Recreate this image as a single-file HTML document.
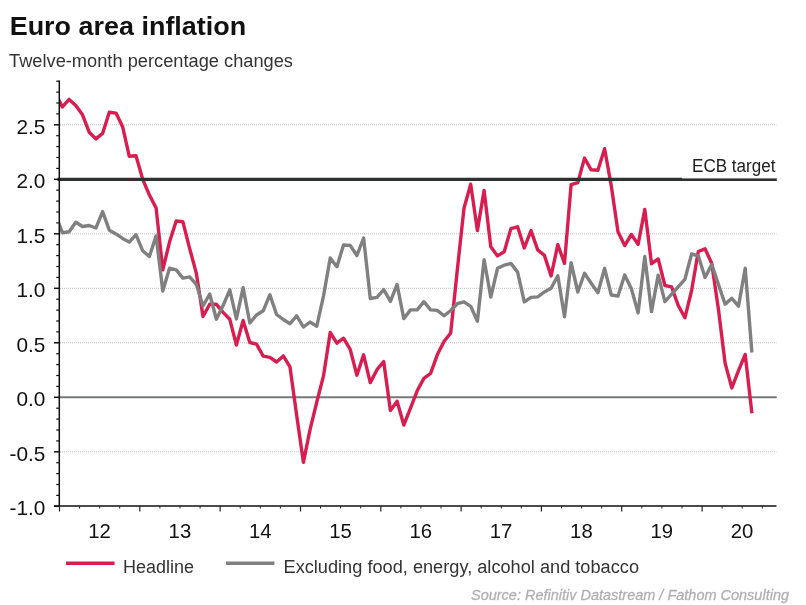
<!DOCTYPE html>
<html><head><meta charset="utf-8"><title>Euro area inflation</title>
<style>
html,body{margin:0;padding:0;background:#fff;}
body{width:806px;height:605px;overflow:hidden;font-family:"Liberation Sans",sans-serif;}
svg{display:block;will-change:transform;opacity:0.999;font-family:"Liberation Sans",sans-serif;}
</style></head><body>
<svg width="806" height="605" viewBox="0 0 806 605">
<rect width="806" height="605" fill="#fff"/>
<defs><clipPath id="plot"><rect x="59.5" y="80" width="717" height="426"/></clipPath></defs>
<text x="9.7" y="34.7" font-size="26.5" font-weight="bold" fill="#111" textLength="236.5" lengthAdjust="spacingAndGlyphs">Euro area inflation</text>
<text x="9" y="66.8" font-size="18" fill="#333" textLength="284" lengthAdjust="spacingAndGlyphs">Twelve-month percentage changes</text>
<line x1="60" x2="776.5" y1="124.8" y2="124.8" stroke="#bcc0c0" stroke-width="1" stroke-dasharray="1 1"/>
<line x1="60" x2="776.5" y1="233.8" y2="233.8" stroke="#bcc0c0" stroke-width="1" stroke-dasharray="1 1"/>
<line x1="60" x2="776.5" y1="288.3" y2="288.3" stroke="#bcc0c0" stroke-width="1" stroke-dasharray="1 1"/>
<line x1="60" x2="776.5" y1="342.8" y2="342.8" stroke="#bcc0c0" stroke-width="1" stroke-dasharray="1 1"/>
<line x1="60" x2="776.5" y1="451.8" y2="451.8" stroke="#bcc0c0" stroke-width="1" stroke-dasharray="1 1"/>
<line x1="59.5" x2="776.5" y1="397.3" y2="397.3" stroke="#858888" stroke-width="2"/>
<line x1="59.5" x2="776.5" y1="397.3" y2="397.3" stroke="#555" stroke-width="1" stroke-dasharray="1 1"/>
<g clip-path="url(#plot)" fill="none" stroke-linejoin="round" stroke-linecap="butt">
<polyline points="55.7,93.7 62.4,106.9 69.1,99.4 75.8,105.4 82.5,114.8 89.2,132.2 95.9,138.9 102.6,133.4 109.3,112.3 116.0,113.1 122.6,126.7 129.3,156.3 136.0,155.8 142.7,179.3 149.4,195.0 156.1,207.9 162.8,269.9 169.5,242.1 176.2,221.0 182.9,221.8 189.6,248.3 196.3,273.1 203.0,316.5 209.7,304.3 216.4,304.3 223.1,312.4 229.8,319.3 236.4,345.0 243.1,320.5 249.8,342.5 256.5,344.2 263.2,356.1 269.9,357.3 276.6,362.0 283.3,355.9 290.0,366.9 296.7,415.6 303.4,462.3 310.1,429.3 316.8,402.0 323.5,375.9 330.2,332.5 336.9,343.2 343.5,338.2 350.2,349.4 356.9,375.2 363.6,354.8 370.3,382.6 377.0,369.7 383.7,361.5 390.4,410.6 397.1,401.2 403.8,425.0 410.5,408.2 417.2,390.8 423.9,378.4 430.6,373.4 437.3,354.8 444.0,341.5 450.7,333.0 457.3,270.0 464.0,208.2 470.7,184.2 477.4,230.6 484.1,190.4 490.8,246.7 497.5,255.9 504.2,251.7 510.9,228.6 517.6,226.8 524.3,247.9 531.0,230.6 537.7,249.9 544.4,255.4 551.1,276.0 557.8,244.7 564.5,263.3 571.1,184.7 577.8,182.7 584.5,158.1 591.2,169.8 597.9,170.3 604.6,148.7 611.3,185.9 618.0,231.7 624.7,245.6 631.4,234.5 638.1,244.4 644.8,209.4 651.5,263.7 658.2,259.0 664.9,285.5 671.6,286.8 678.2,305.4 684.9,317.8 691.6,290.5 698.3,251.5 705.0,248.8 711.7,263.2 718.4,309.1 725.1,363.1 731.8,387.9 738.5,370.6 745.2,354.4 751.9,413.3" stroke="#d81e50" stroke-width="3.4"/>
<polyline points="55.7,215.4 62.4,232.7 69.1,231.7 75.8,222.3 82.5,226.5 89.2,225.5 95.9,228.0 102.6,211.6 109.3,230.2 116.0,233.9 122.6,238.4 129.3,242.1 136.0,234.7 142.7,250.8 149.4,256.5 156.1,235.9 162.8,291.0 169.5,268.2 176.2,269.9 182.9,278.1 189.6,276.8 196.3,284.3 203.0,306.0 209.7,294.0 216.4,319.2 223.1,305.5 229.8,289.8 236.4,319.0 243.1,287.6 249.8,323.0 256.5,315.0 263.2,310.8 269.9,294.7 276.6,314.5 283.3,319.5 290.0,323.7 296.7,315.8 303.4,327.0 310.1,322.1 316.8,326.2 323.5,296.0 330.2,258.0 336.9,266.7 343.5,245.0 350.2,245.4 356.9,255.5 363.6,238.0 370.3,298.5 377.0,297.3 383.7,289.5 390.4,301.3 397.1,284.5 403.8,318.6 410.5,309.9 417.2,309.9 423.9,301.7 430.6,309.9 437.3,310.4 444.0,315.8 450.7,310.5 457.3,303.7 464.0,301.8 470.7,306.3 477.4,321.3 484.1,259.8 490.8,297.1 497.5,268.3 504.2,265.2 510.9,263.4 517.6,272.1 524.3,301.9 531.0,297.4 537.7,296.9 544.4,292.0 551.1,288.2 557.8,275.8 564.5,316.8 571.1,262.7 577.8,292.0 584.5,273.3 591.2,283.3 597.9,292.7 604.6,268.3 611.3,295.0 618.0,296.0 624.7,275.1 631.4,288.8 638.1,312.9 644.8,256.5 651.5,311.6 658.2,275.1 664.9,301.7 671.6,294.2 678.2,286.8 684.9,279.3 691.6,254.0 698.3,255.8 705.0,277.6 711.7,264.4 718.4,284.3 725.1,304.1 731.8,298.4 738.5,306.1 745.2,268.2 751.9,352.5" stroke="#808080" stroke-width="3.4"/>
</g>
<line x1="57.5" x2="776.8" y1="179.3" y2="179.3" stroke="#2f3030" stroke-width="3.2"/>
<rect x="682" y="152" width="100" height="26.4" fill="#fff"/>
<text x="692" y="171.7" font-size="18" fill="#222" textLength="83.5" lengthAdjust="spacingAndGlyphs">ECB target</text>
<line x1="59.3" x2="59.3" y1="80.5" y2="506.5" stroke="#111" stroke-width="1.5"/>
<line x1="54" x2="776.5" y1="506" y2="506" stroke="#111" stroke-width="1.3"/>
<line x1="54" x2="59.5" y1="506.3" y2="506.3" stroke="#111" stroke-width="1.5"/>
<line x1="56.2" x2="59.5" y1="495.4" y2="495.4" stroke="#111" stroke-width="1.2"/>
<line x1="56.2" x2="59.5" y1="484.5" y2="484.5" stroke="#111" stroke-width="1.2"/>
<line x1="56.2" x2="59.5" y1="473.6" y2="473.6" stroke="#111" stroke-width="1.2"/>
<line x1="56.2" x2="59.5" y1="462.7" y2="462.7" stroke="#111" stroke-width="1.2"/>
<line x1="54" x2="59.5" y1="451.8" y2="451.8" stroke="#111" stroke-width="1.5"/>
<line x1="56.2" x2="59.5" y1="440.9" y2="440.9" stroke="#111" stroke-width="1.2"/>
<line x1="56.2" x2="59.5" y1="430.0" y2="430.0" stroke="#111" stroke-width="1.2"/>
<line x1="56.2" x2="59.5" y1="419.1" y2="419.1" stroke="#111" stroke-width="1.2"/>
<line x1="56.2" x2="59.5" y1="408.2" y2="408.2" stroke="#111" stroke-width="1.2"/>
<line x1="54" x2="59.5" y1="397.3" y2="397.3" stroke="#111" stroke-width="1.5"/>
<line x1="56.2" x2="59.5" y1="386.4" y2="386.4" stroke="#111" stroke-width="1.2"/>
<line x1="56.2" x2="59.5" y1="375.5" y2="375.5" stroke="#111" stroke-width="1.2"/>
<line x1="56.2" x2="59.5" y1="364.6" y2="364.6" stroke="#111" stroke-width="1.2"/>
<line x1="56.2" x2="59.5" y1="353.7" y2="353.7" stroke="#111" stroke-width="1.2"/>
<line x1="54" x2="59.5" y1="342.8" y2="342.8" stroke="#111" stroke-width="1.5"/>
<line x1="56.2" x2="59.5" y1="331.9" y2="331.9" stroke="#111" stroke-width="1.2"/>
<line x1="56.2" x2="59.5" y1="321.0" y2="321.0" stroke="#111" stroke-width="1.2"/>
<line x1="56.2" x2="59.5" y1="310.1" y2="310.1" stroke="#111" stroke-width="1.2"/>
<line x1="56.2" x2="59.5" y1="299.2" y2="299.2" stroke="#111" stroke-width="1.2"/>
<line x1="54" x2="59.5" y1="288.3" y2="288.3" stroke="#111" stroke-width="1.5"/>
<line x1="56.2" x2="59.5" y1="277.4" y2="277.4" stroke="#111" stroke-width="1.2"/>
<line x1="56.2" x2="59.5" y1="266.5" y2="266.5" stroke="#111" stroke-width="1.2"/>
<line x1="56.2" x2="59.5" y1="255.6" y2="255.6" stroke="#111" stroke-width="1.2"/>
<line x1="56.2" x2="59.5" y1="244.7" y2="244.7" stroke="#111" stroke-width="1.2"/>
<line x1="54" x2="59.5" y1="233.8" y2="233.8" stroke="#111" stroke-width="1.5"/>
<line x1="56.2" x2="59.5" y1="222.9" y2="222.9" stroke="#111" stroke-width="1.2"/>
<line x1="56.2" x2="59.5" y1="212.0" y2="212.0" stroke="#111" stroke-width="1.2"/>
<line x1="56.2" x2="59.5" y1="201.1" y2="201.1" stroke="#111" stroke-width="1.2"/>
<line x1="56.2" x2="59.5" y1="190.2" y2="190.2" stroke="#111" stroke-width="1.2"/>
<line x1="54" x2="59.5" y1="179.3" y2="179.3" stroke="#111" stroke-width="1.5"/>
<line x1="56.2" x2="59.5" y1="168.4" y2="168.4" stroke="#111" stroke-width="1.2"/>
<line x1="56.2" x2="59.5" y1="157.5" y2="157.5" stroke="#111" stroke-width="1.2"/>
<line x1="56.2" x2="59.5" y1="146.6" y2="146.6" stroke="#111" stroke-width="1.2"/>
<line x1="56.2" x2="59.5" y1="135.7" y2="135.7" stroke="#111" stroke-width="1.2"/>
<line x1="54" x2="59.5" y1="124.8" y2="124.8" stroke="#111" stroke-width="1.5"/>
<line x1="56.2" x2="59.5" y1="113.9" y2="113.9" stroke="#111" stroke-width="1.2"/>
<line x1="56.2" x2="59.5" y1="103.0" y2="103.0" stroke="#111" stroke-width="1.2"/>
<line x1="56.2" x2="59.5" y1="92.1" y2="92.1" stroke="#111" stroke-width="1.2"/>
<line x1="56.2" x2="59.5" y1="81.2" y2="81.2" stroke="#111" stroke-width="1.2"/>
<line x1="59.5" x2="59.5" y1="506" y2="511.5" stroke="#222" stroke-width="1.2"/>
<line x1="79.6" x2="79.6" y1="506" y2="508.5" stroke="#222" stroke-width="1"/>
<line x1="99.7" x2="99.7" y1="506" y2="508.5" stroke="#222" stroke-width="1"/>
<line x1="119.7" x2="119.7" y1="506" y2="508.5" stroke="#222" stroke-width="1"/>
<line x1="139.8" x2="139.8" y1="506" y2="511.5" stroke="#222" stroke-width="1.2"/>
<line x1="159.9" x2="159.9" y1="506" y2="508.5" stroke="#222" stroke-width="1"/>
<line x1="180.0" x2="180.0" y1="506" y2="508.5" stroke="#222" stroke-width="1"/>
<line x1="200.1" x2="200.1" y1="506" y2="508.5" stroke="#222" stroke-width="1"/>
<line x1="220.1" x2="220.1" y1="506" y2="511.5" stroke="#222" stroke-width="1.2"/>
<line x1="240.2" x2="240.2" y1="506" y2="508.5" stroke="#222" stroke-width="1"/>
<line x1="260.3" x2="260.3" y1="506" y2="508.5" stroke="#222" stroke-width="1"/>
<line x1="280.4" x2="280.4" y1="506" y2="508.5" stroke="#222" stroke-width="1"/>
<line x1="300.5" x2="300.5" y1="506" y2="511.5" stroke="#222" stroke-width="1.2"/>
<line x1="320.5" x2="320.5" y1="506" y2="508.5" stroke="#222" stroke-width="1"/>
<line x1="340.6" x2="340.6" y1="506" y2="508.5" stroke="#222" stroke-width="1"/>
<line x1="360.7" x2="360.7" y1="506" y2="508.5" stroke="#222" stroke-width="1"/>
<line x1="380.8" x2="380.8" y1="506" y2="511.5" stroke="#222" stroke-width="1.2"/>
<line x1="400.9" x2="400.9" y1="506" y2="508.5" stroke="#222" stroke-width="1"/>
<line x1="420.9" x2="420.9" y1="506" y2="508.5" stroke="#222" stroke-width="1"/>
<line x1="441.0" x2="441.0" y1="506" y2="508.5" stroke="#222" stroke-width="1"/>
<line x1="461.1" x2="461.1" y1="506" y2="511.5" stroke="#222" stroke-width="1.2"/>
<line x1="481.2" x2="481.2" y1="506" y2="508.5" stroke="#222" stroke-width="1"/>
<line x1="501.3" x2="501.3" y1="506" y2="508.5" stroke="#222" stroke-width="1"/>
<line x1="521.3" x2="521.3" y1="506" y2="508.5" stroke="#222" stroke-width="1"/>
<line x1="541.4" x2="541.4" y1="506" y2="511.5" stroke="#222" stroke-width="1.2"/>
<line x1="561.5" x2="561.5" y1="506" y2="508.5" stroke="#222" stroke-width="1"/>
<line x1="581.6" x2="581.6" y1="506" y2="508.5" stroke="#222" stroke-width="1"/>
<line x1="601.7" x2="601.7" y1="506" y2="508.5" stroke="#222" stroke-width="1"/>
<line x1="621.7" x2="621.7" y1="506" y2="511.5" stroke="#222" stroke-width="1.2"/>
<line x1="641.8" x2="641.8" y1="506" y2="508.5" stroke="#222" stroke-width="1"/>
<line x1="661.9" x2="661.9" y1="506" y2="508.5" stroke="#222" stroke-width="1"/>
<line x1="682.0" x2="682.0" y1="506" y2="508.5" stroke="#222" stroke-width="1"/>
<line x1="702.1" x2="702.1" y1="506" y2="511.5" stroke="#222" stroke-width="1.2"/>
<line x1="722.1" x2="722.1" y1="506" y2="508.5" stroke="#222" stroke-width="1"/>
<line x1="742.2" x2="742.2" y1="506" y2="508.5" stroke="#222" stroke-width="1"/>
<line x1="762.3" x2="762.3" y1="506" y2="508.5" stroke="#222" stroke-width="1"/>
<text x="45.3" y="133.8" text-anchor="end" font-size="20.8" fill="#111">2.5</text>
<text x="45.3" y="188.3" text-anchor="end" font-size="20.8" fill="#111">2.0</text>
<text x="45.3" y="242.8" text-anchor="end" font-size="20.8" fill="#111">1.5</text>
<text x="45.3" y="297.3" text-anchor="end" font-size="20.8" fill="#111">1.0</text>
<text x="45.3" y="351.8" text-anchor="end" font-size="20.8" fill="#111">0.5</text>
<text x="45.3" y="406.3" text-anchor="end" font-size="20.8" fill="#111">0.0</text>
<text x="45.3" y="460.8" text-anchor="end" font-size="20.8" fill="#111">-0.5</text>
<text x="45.3" y="515.3" text-anchor="end" font-size="20.8" fill="#111">-1.0</text>
<text x="99.6" y="538" text-anchor="middle" font-size="20.3" fill="#111">12</text>
<text x="179.9" y="538" text-anchor="middle" font-size="20.3" fill="#111">13</text>
<text x="260.2" y="538" text-anchor="middle" font-size="20.3" fill="#111">14</text>
<text x="340.5" y="538" text-anchor="middle" font-size="20.3" fill="#111">15</text>
<text x="420.8" y="538" text-anchor="middle" font-size="20.3" fill="#111">16</text>
<text x="501.1" y="538" text-anchor="middle" font-size="20.3" fill="#111">17</text>
<text x="581.4" y="538" text-anchor="middle" font-size="20.3" fill="#111">18</text>
<text x="661.7" y="538" text-anchor="middle" font-size="20.3" fill="#111">19</text>
<text x="742.0" y="538" text-anchor="middle" font-size="20.3" fill="#111">20</text>
<line x1="66" x2="114.6" y1="563.3" y2="563.3" stroke="#d81e50" stroke-width="3.4"/>
<text x="123" y="572.8" font-size="18" fill="#333" textLength="71" lengthAdjust="spacingAndGlyphs">Headline</text>
<line x1="226" x2="274.4" y1="563.3" y2="563.3" stroke="#808080" stroke-width="3.4"/>
<text x="283.5" y="572.8" font-size="18" fill="#333" textLength="355.5" lengthAdjust="spacingAndGlyphs">Excluding food, energy, alcohol and tobacco</text>
<text x="471" y="599.9" font-size="14.6" font-style="italic" fill="#b0b0b0" stroke="#b0b0b0" stroke-width="0.3" textLength="318" lengthAdjust="spacingAndGlyphs">Source: Refinitiv Datastream / Fathom Consulting</text>
</svg>
</body></html>
